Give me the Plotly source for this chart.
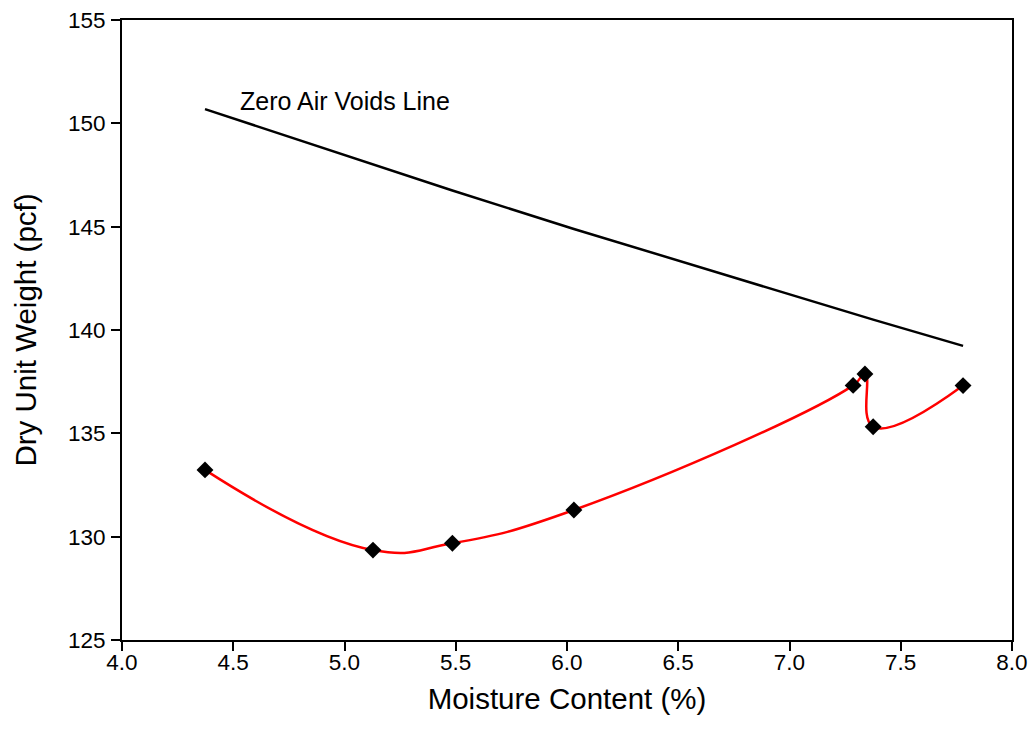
import plotly.graph_objects as go

moisture = [4.373, 5.128, 5.485, 6.031, 7.286, 7.339, 7.376, 7.780]
dry_unit_weight = [133.23, 129.35, 129.68, 131.29, 137.32, 137.87, 135.32, 137.31]
zav_weight = [150.69, 147.99, 146.75, 144.89, 140.79, 140.62, 140.50, 139.23]

x_ticks = [4.0, 4.5, 5.0, 5.5, 6.0, 6.5, 7.0, 7.5, 8.0]
y_ticks = [125, 130, 135, 140, 145, 150, 155]

fig = go.Figure()
fig.add_trace(go.Scatter(x=moisture, y=zav_weight, mode="lines",
                         line=dict(color="black", width=2.5), showlegend=False))
fig.add_trace(go.Scatter(x=moisture, y=dry_unit_weight, mode="lines",
                         line=dict(color="red", width=2.5, shape="spline", smoothing=1.3),
                         showlegend=False))
fig.add_trace(go.Scatter(x=moisture, y=dry_unit_weight, mode="markers",
                         marker=dict(symbol="diamond", color="black", size=13),
                         showlegend=False))

fig.add_annotation(x=4.52, y=151.1, text="Zero Air Voids Line", showarrow=False,
                   xanchor="left", yanchor="middle", font=dict(size=25, color="black"))

axis_common = dict(showgrid=False, zeroline=False, showline=True, linecolor="black",
                   linewidth=2, mirror=True, ticks="outside", ticklen=9, tickwidth=2,
                   tickcolor="black", tickfont=dict(size=22.5, color="black"),
                   automargin=False)
fig.update_xaxes(range=[4.0, 8.0], tickvals=x_ticks, ticktext=[f"{v:.1f}" for v in x_ticks],
                 ticklabelstandoff=-8,
                 title=dict(text="Moisture Content (%)", font=dict(size=29.5, color="black"), standoff=14),
                 **axis_common)
fig.update_yaxes(range=[125, 155], tickvals=y_ticks, ticklabelstandoff=1,
                 title=dict(text="Dry Unit Weight (pcf)", font=dict(size=29.5, color="black"), standoff=23),
                 **axis_common)

fig.update_layout(width=1031, height=745, margin=dict(l=122, r=19, t=20, b=105),
                  plot_bgcolor="white", paper_bgcolor="white",
                  font=dict(family="Arial, Liberation Sans, sans-serif"))
fig.write_html("out.html", config={"displayModeBar": False},
               post_script="document.body.style.margin='0px';")
